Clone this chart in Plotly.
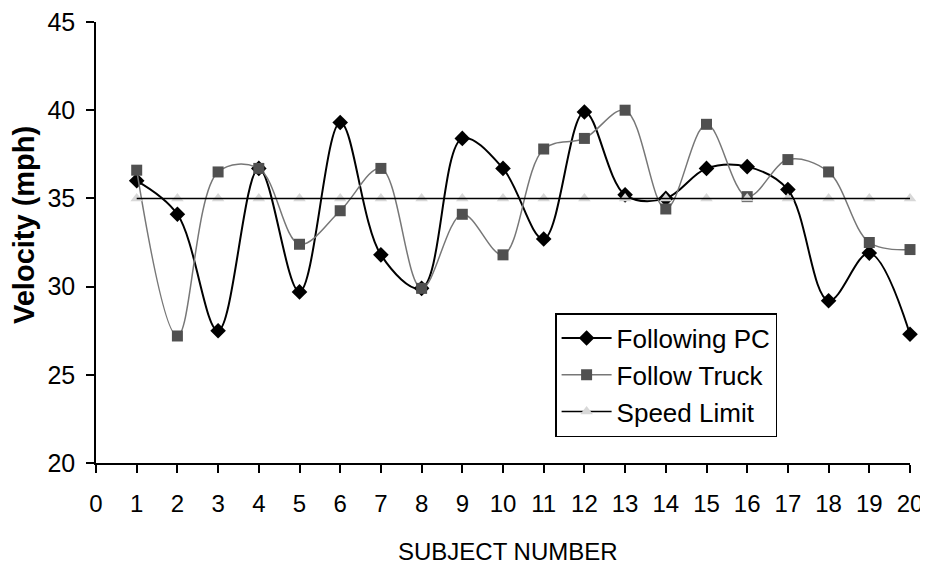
import plotly.graph_objects as go

subjects = list(range(1, 21))
following_pc = [36.0, 34.1, 27.5, 36.7, 29.7, 39.3, 31.8, 29.9, 38.4, 36.7,
                32.7, 39.9, 35.2, 35.0, 36.7, 36.8, 35.5, 29.2, 31.9, 27.3]
follow_truck = [36.6, 27.2, 36.5, 36.7, 32.4, 34.3, 36.7, 29.9, 34.1, 31.8,
                37.8, 38.4, 40.0, 34.4, 39.2, 35.1, 37.2, 36.5, 32.5, 32.1]
speed_limit = [35] * 20

x_ticks = list(range(0, 21))
y_ticks = [20, 25, 30, 35, 40, 45]

FONT = "Liberation Sans, Arial, sans-serif"

fig = go.Figure()

fig.add_trace(go.Scatter(
    x=subjects, y=following_pc, name="Following PC",
    mode="lines+markers",
    line=dict(color="black", width=2, shape="spline", smoothing=1),
    marker=dict(symbol="diamond", size=12, color="black"),
    cliponaxis=False,
))
fig.add_trace(go.Scatter(
    x=subjects, y=follow_truck, name="Follow Truck",
    mode="lines+markers",
    line=dict(color="#777777", width=1.5, shape="spline", smoothing=1),
    marker=dict(symbol="square", size=11, color="#505050"),
    cliponaxis=False,
))
# speed limit: light grey triangles under a black line
fig.add_trace(go.Scatter(
    x=subjects, y=speed_limit, name="Speed Limit", legendgroup="sl",
    mode="markers", showlegend=False,
    marker=dict(symbol="triangle-up", size=11, color="#d8d8d8"),
    cliponaxis=False,
))
fig.add_trace(go.Scatter(
    x=subjects, y=speed_limit, name="Speed Limit", legendgroup="sl",
    mode="lines", showlegend=False,
    line=dict(color="black", width=1.5),
    cliponaxis=False,
))
# legend entry for the speed limit (line with grey triangle)
fig.add_trace(go.Scatter(
    x=[None], y=[None], name="Speed Limit", legendgroup="sl",
    mode="lines+markers",
    line=dict(color="black", width=1.5),
    marker=dict(symbol="triangle-up", size=11, color="#d8d8d8"),
))

fig.update_layout(
    template="none",
    width=920, height=560,
    margin=dict(l=88, r=18, t=14, b=105),
    paper_bgcolor="white", plot_bgcolor="white",
    font=dict(family=FONT, color="black", size=24),
    showlegend=True,
    legend=dict(
        x=0.564, y=0.340, xanchor="left", yanchor="top",
        bgcolor="white", bordercolor="black", borderwidth=1.5,
        font=dict(size=26, family=FONT),
        tracegroupgap=0, itemwidth=50,
    ),
    xaxis=dict(
        range=[0, 20], tickmode="array", tickvals=x_ticks,
        ticktext=[str(v) for v in x_ticks],
        showline=True, linecolor="black", linewidth=1.5,
        ticks="outside", ticklen=8, tickcolor="black", tickwidth=1.5,
        showgrid=False, zeroline=False, automargin=False,
        tickfont=dict(size=24, family=FONT), ticklabelstandoff=10,
        ticklabeloverflow="allow",
    ),
    yaxis=dict(
        range=[20, 45], tickmode="array", tickvals=y_ticks,
        ticktext=[str(v) for v in y_ticks],
        showline=True, linecolor="black", linewidth=1.5,
        ticks="outside", ticklen=8, tickcolor="black", tickwidth=1.5,
        showgrid=False, zeroline=False, automargin=False,
        tickfont=dict(size=25, family=FONT), ticklabelstandoff=6,
        ticklabeloverflow="allow",
    ),
    annotations=[
        dict(
            text="<b>Velocity (mph)</b>", textangle=-90,
            xref="paper", yref="paper",
            x=(24 - 96) / 814, y=(463 - 225) / 441,
            xanchor="center", yanchor="middle", showarrow=False,
            font=dict(size=29, family=FONT, color="black"),
        ),
        dict(
            text="SUBJECT NUMBER",
            xref="paper", yref="paper",
            x=(508 - 96) / 814, y=(463 - 551) / 441,
            xanchor="center", yanchor="middle", showarrow=False,
            font=dict(size=24, family=FONT, color="black"),
        ),
    ],
)

fig.write_html("out.html")
